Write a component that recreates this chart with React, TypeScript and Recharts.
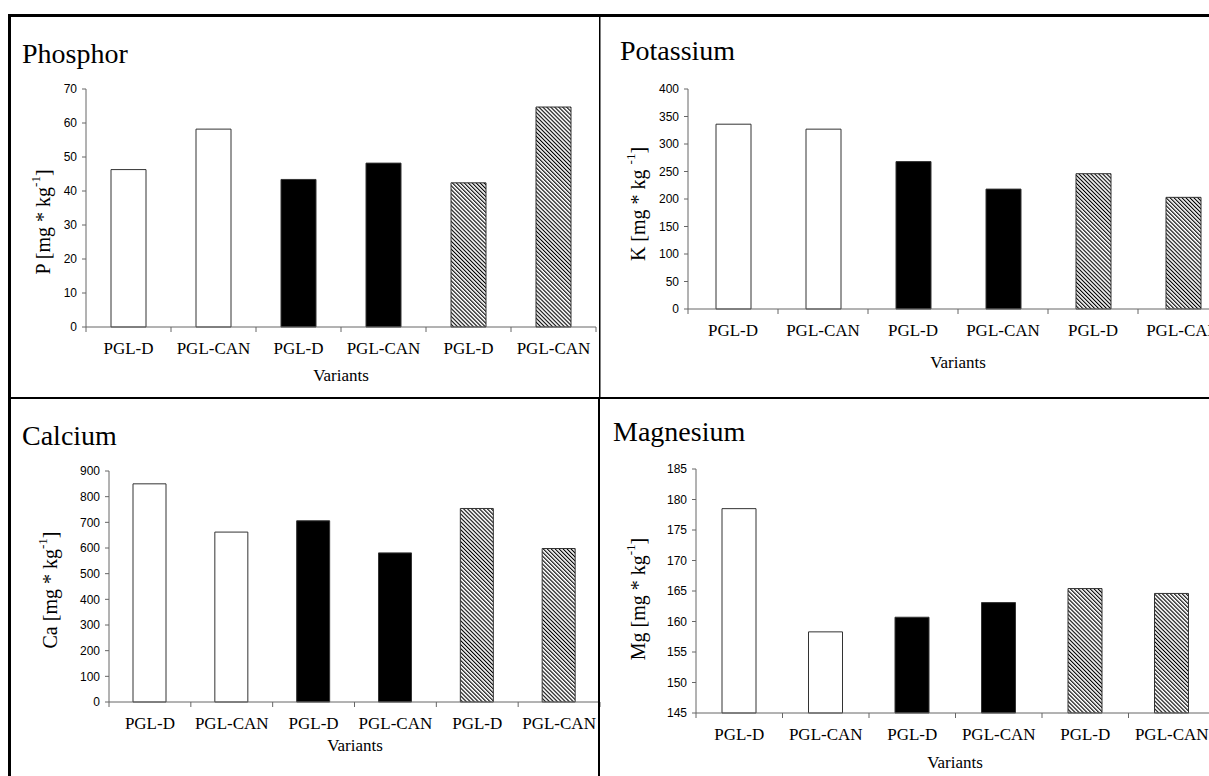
import { Bar, BarChart, Cell, XAxis, YAxis } from "recharts";

const categories = ["PGL-D", "PGL-CAN", "PGL-D", "PGL-CAN", "PGL-D", "PGL-CAN"];
const barKinds = ["white", "white", "black", "black", "hatch", "hatch"];

const phosphorValues = [46.3, 58.2, 43.4, 48.2, 42.4, 64.7];
const potassiumValues = [336, 327, 268, 218, 246, 203];
const calciumValues = [850, 662, 706, 581, 754, 598];
const magnesiumValues = [178.5, 158.3, 160.7, 163.1, 165.4, 164.6];

const phosphorTicks = [0, 10, 20, 30, 40, 50, 60, 70];
const potassiumTicks = [0, 50, 100, 150, 200, 250, 300, 350, 400];
const calciumTicks = [0, 100, 200, 300, 400, 500, 600, 700, 800, 900];
const magnesiumTicks = [145, 150, 155, 160, 165, 170, 175, 180, 185];

const SERIF = '"Liberation Serif", "Times New Roman", serif';
const SANS = '"Liberation Sans", Arial, sans-serif';
const AXIS = "#666";

const toRows = (values: number[]) =>
  categories.map((name, i) => ({ name, value: values[i] }));

const fillFor = (kind: string) =>
  kind === "white" ? "#ffffff" : kind === "black" ? "#000000" : "url(#hatch)";

const CategoryTick = ({ x, y, payload, index }: any) => {
  const half = payload?.offset ?? 0;
  return (
    <g>
      {index === 0 && (
        <line x1={x - half} x2={x - half} y1={y} y2={y + 5} stroke={AXIS} />
      )}
      <line x1={x + half} x2={x + half} y1={y} y2={y + 5} stroke={AXIS} />
      <text
        x={x}
        y={y + 21}
        textAnchor="middle"
        dominantBaseline="central"
        style={{ fontFamily: SERIF, fontSize: 17 }}
        fill="#000"
      >
        {payload.value}
      </text>
    </g>
  );
};

interface PanelProps {
  left: number;
  top: number;
  width: number;
  height: number;
  margin: { top: number; right: number; bottom: number; left: number };
  barSize: number;
  values: number[];
  ticks: number[];
}

const Panel = ({ left, top, width, height, margin, barSize, values, ticks }: PanelProps) => (
  <div style={{ position: "absolute", left, top }}>
    <BarChart width={width} height={height} data={toRows(values)} margin={margin}>
      <XAxis
        dataKey="name"
        interval={0}
        tickLine={false}
        tickSize={0}
        tickMargin={0}
        tick={<CategoryTick />}
        axisLine={{ stroke: AXIS }}
        height={55}
      />
      <YAxis
        domain={[ticks[0], ticks[ticks.length - 1]]}
        ticks={ticks}
        interval={0}
        width={36}
        tickSize={4}
        tickMargin={5}
        tick={{ fill: "#000", fontSize: 12, fontFamily: SANS }}
        tickLine={{ stroke: AXIS }}
        axisLine={{ stroke: AXIS }}
      />
      <Bar dataKey="value" barSize={barSize} stroke="#333" strokeWidth={1} isAnimationActive={false}>
        {barKinds.map((kind, i) => (
          <Cell key={`cell-${i}`} fill={fillFor(kind)} />
        ))}
      </Bar>
    </BarChart>
  </div>
);

const YTitle = ({ x, y, symbol, gap }: { x: number; y: number; symbol: string; gap: string }) => (
  <text
    x={x}
    y={y}
    transform={`rotate(-90, ${x}, ${y})`}
    textAnchor="middle"
    dominantBaseline="central"
    style={{ fontFamily: SERIF, fontSize: 20 }}
    fill="#000"
  >
    {`${symbol} [mg * kg${gap}`}
    <tspan style={{ fontSize: 13 }} dy={-8}>
      -1
    </tspan>
    <tspan dy={8}>]</tspan>
  </text>
);

const XTitle = ({ x, y }: { x: number; y: number }) => (
  <text
    x={x}
    y={y}
    textAnchor="middle"
    dominantBaseline="central"
    style={{ fontFamily: SERIF, fontSize: 17 }}
    fill="#000"
  >
    Variants
  </text>
);

export default function App() {
  return (
    <div
      style={{
        position: "absolute",
        left: 0,
        top: 0,
        width: 1209,
        height: 776,
        overflow: "hidden",
        background: "#fff",
      }}
    >
      <svg width={0} height={0} style={{ position: "absolute" }}>
        <defs>
          <pattern
            id="hatch"
            width={2.8}
            height={10}
            patternUnits="userSpaceOnUse"
            patternTransform="rotate(-45)"
          >
            <rect x={0} y={0} width={2.8} height={10} fill="#fff" />
            <rect x={0} y={0} width={1.1} height={10} fill="#000" />
          </pattern>
        </defs>
      </svg>

      <Panel
        left={10}
        top={70}
        width={590}
        height={320}
        margin={{ top: 19, right: 4, bottom: 8, left: 40 }}
        barSize={35}
        values={phosphorValues}
        ticks={phosphorTicks}
      />
      <Panel
        left={602}
        top={70}
        width={640}
        height={302}
        margin={{ top: 19, right: 14, bottom: 8, left: 50 }}
        barSize={35}
        values={potassiumValues}
        ticks={potassiumTicks}
      />
      <Panel
        left={10}
        top={452}
        width={592}
        height={313}
        margin={{ top: 19, right: 2, bottom: 8, left: 63 }}
        barSize={33}
        values={calciumValues}
        ticks={calciumTicks}
      />
      <Panel
        left={602}
        top={450}
        width={623}
        height={326}
        margin={{ top: 19, right: 10, bottom: 8, left: 58 }}
        barSize={34}
        values={magnesiumValues}
        ticks={magnesiumTicks}
      />

      <svg
        width={1209}
        height={776}
        style={{ position: "absolute", left: 0, top: 0, pointerEvents: "none" }}
      >
        <rect x={8} y={14} width={1201} height={3} fill="#000" />
        <rect x={8} y={14} width={3} height={762} fill="#000" />
        <rect x={8} y={397} width={1201} height={2} fill="#000" />
        <rect x={599} y={14} width={1.5} height={384} fill="#000" />
        <rect x={598} y={397} width={2} height={379} fill="#000" />
        <g style={{ fontFamily: SERIF, fontSize: 28 }} fill="#000">
          <text x={22} y={63}>Phosphor</text>
          <text x={620} y={60}>Potassium</text>
          <text x={22} y={445}>Calcium</text>
          <text x={613} y={441}>Magnesium</text>
        </g>
        <YTitle x={43} y={222} symbol="P" gap="" />
        <YTitle x={638} y={204} symbol="K" gap=" " />
        <YTitle x={50} y={590} symbol="Ca" gap="" />
        <YTitle x={638} y={599} symbol="Mg" gap="" />
        <XTitle x={341} y={375} />
        <XTitle x={958} y={362} />
        <XTitle x={355} y={745} />
        <XTitle x={955} y={762} />
      </svg>
    </div>
  );
}
